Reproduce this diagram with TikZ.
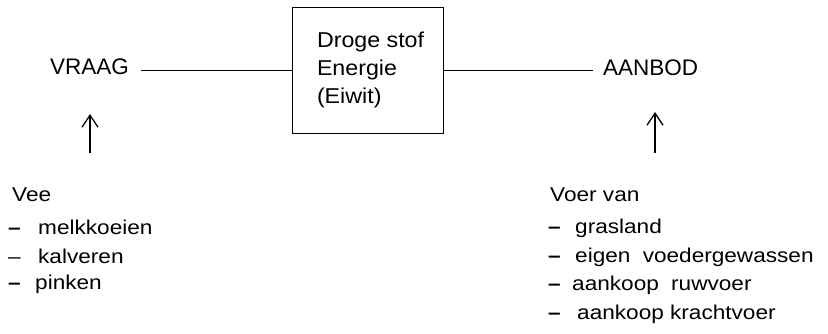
\documentclass[tikz,border=0pt]{standalone}
\usepackage{fontspec}
\setmainfont{Liberation Sans}
\newfontfamily\listfont[FakeStretch=1.13]{Liberation Sans}
\newfontfamily\boxfont[FakeStretch=1.08]{Liberation Sans}
\usetikzlibrary{arrows.meta}

\begin{document}
\begin{tikzpicture}[x=1pt, y=-1pt,
  head/.style={font=\fontsize{22.5}{27}\selectfont, inner sep=0pt, anchor=base west},
  item/.style={font=\listfont\fontsize{20}{24}\selectfont, inner sep=0pt, anchor=base west},
  flow/.style={line width=1pt},
  up/.style={line width=1.3pt, -{Straight Barb[length=12pt, width=16pt, line width=1.3pt]}},
  panel/.style={draw, line width=1pt, minimum width=151pt, minimum height=126pt,
    inner sep=0pt, font=\boxfont\fontsize{21.5}{28}\selectfont}
]
\useasboundingbox (0,0) rectangle (828,333);

% central box and the two sides
\node[panel] (box) at (367.5,70)
  {\makebox[151pt][l]{\hspace{25pt}\begin{tabular}{@{}l@{}}Droge stof\\Energie\\(Eiwit)\end{tabular}}};
\node[head] (vraag) at (50,74) {VRAAG};
\node[head] (aanbod) at (603,75) {AANBOD};

\draw[flow] (box.west) -- ([xshift=12pt]vraag.east |- box.west);
\draw[flow] (box.east) -- ([xshift=-10pt]aanbod.west |- box.east);

% upward arrows
\coordinate (vs) at (90,153);
\coordinate (ve) at (90,114);
\coordinate (as) at (655,153);
\coordinate (ae) at (655,112);
\draw[up] (vs) -- (ve);
\draw[up] (as) -- (ae);

% demand side
\node[item] (vee) at (12,201) {Vee};
\node[item] (v1) at (8,234) {\makebox[30pt][l]{\bfseries –}melkkoeien};
\node[item] (v2) at (8,263) {\makebox[30pt][l]{–}kalveren};
\node[item] (v3) at (8,289) {\makebox[27pt][l]{\bfseries –}pinken};

% supply side
\node[item] (voer) at (550,201) {Voer van};
\node[item] (s1) at (548,233) {\makebox[27pt][l]{\bfseries –}grasland};
\node[item] (s2) at (548,262) {\makebox[27pt][l]{\bfseries –}eigen\hspace{0.3em} voedergewassen};
\node[item] (s3) at (548,290) {\makebox[24pt][l]{\bfseries –}aankoop\hspace{0.3em} ruwvoer};
\node[item] (s4) at (548,319) {\makebox[29pt][l]{\bfseries –}aankoop krachtvoer};
\end{tikzpicture}
\end{document}
